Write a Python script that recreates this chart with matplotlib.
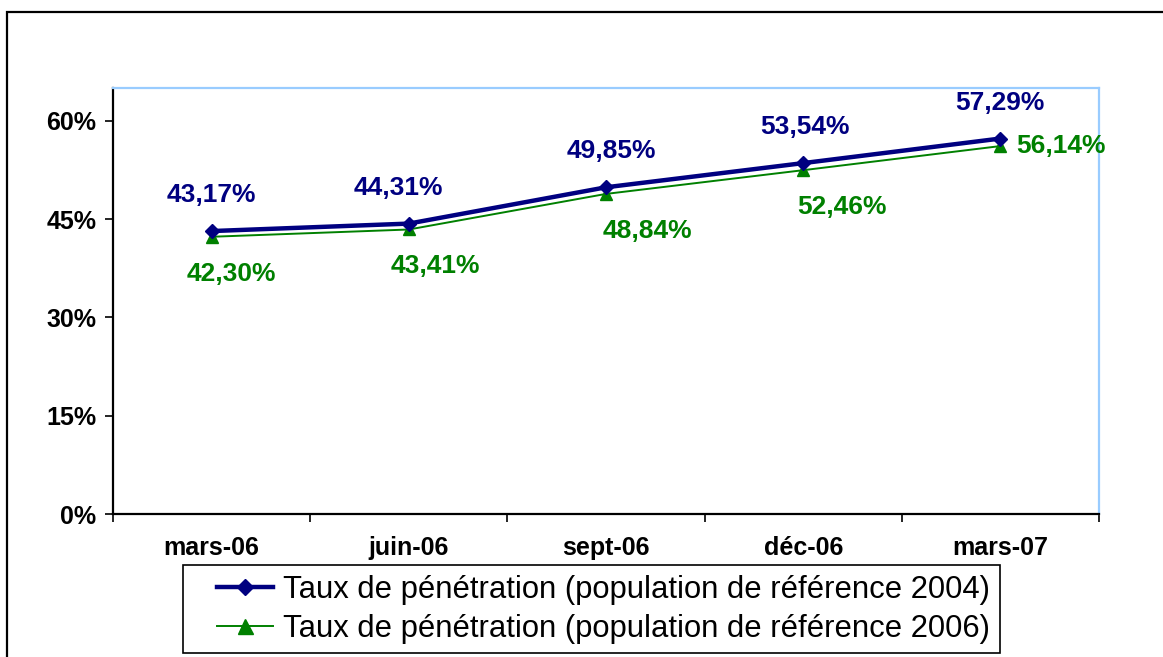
import matplotlib.pyplot as plt
from matplotlib.patches import Rectangle
from matplotlib.ticker import FixedLocator, FuncFormatter

# ============================================
# DATA
# ============================================
periodes = ['mars-06', 'juin-06', 'sept-06', 'déc-06', 'mars-07']
taux_2004 = [43.17, 44.31, 49.85, 53.54, 57.29]
taux_2006 = [42.30, 43.41, 48.84, 52.46, 56.14]
label_2004 = 'Taux de pénétration (population de référence 2004)'
label_2006 = 'Taux de pénétration (population de référence 2006)'

bleu = '#000080'
vert = '#008000'

plt.rcParams['font.family'] = ['Liberation Sans', 'DejaVu Sans']

W, H = 1163, 657
fig = plt.figure(figsize=(W / 100, H / 100), dpi=100)
# cadre exterieur (coupe a droite et en bas)
fig.patches.append(Rectangle((7 / W, -0.1), 1.2, 1.1 - 12 / H, transform=fig.transFigure,
                             fill=False, edgecolor='black', linewidth=1.6, zorder=-1))
ax = fig.add_axes([113 / W, 1 - 514 / H, (1099 - 113) / W, (514 - 88) / H])

x = list(range(len(periodes)))
l1, = ax.plot(x, taux_2004, color=bleu, linewidth=3.2, marker='D', markersize=7, zorder=4)
l2, = ax.plot(x, taux_2006, color=vert, linewidth=1.4, marker='^', markersize=9, zorder=3)

# etiquettes de valeurs
off_2004 = [(0, 36), (-10, 36), (5, 36), (2, 36), (0, 36)]
off_2006 = [(20, -37), (27, -37), (41, -37), (39, -37), (61, 0)]
for i in x:
    ax.annotate(f'{taux_2004[i]:.2f}%'.replace('.', ','), (i, taux_2004[i]), xytext=off_2004[i],
                textcoords='offset pixels', ha='center', va='center', color=bleu,
                fontsize=19, fontweight='bold', annotation_clip=False)
    ax.annotate(f'{taux_2006[i]:.2f}%'.replace('.', ','), (i, taux_2006[i]), xytext=off_2006[i],
                textcoords='offset pixels', ha='center', va='center', color=vert,
                fontsize=19, fontweight='bold', annotation_clip=False)

ax.set_xlim(-0.5, len(periodes) - 0.5)
ax.set_ylim(0, 65)
ax.yaxis.set_major_locator(FixedLocator([0, 15, 30, 45, 60]))
ax.yaxis.set_major_formatter(FuncFormatter(lambda v, p: f'{v:.0f}%'))
ax.set_xticks(x)
ax.set_xticklabels(periodes)
ax.set_xticks([i - 0.5 for i in range(len(periodes) + 1)], minor=True)
ax.tick_params(axis='x', which='major', length=0, pad=16, labelsize=18)
ax.tick_params(axis='x', which='minor', length=6, width=1.2, direction='out')
ax.tick_params(axis='y', length=6, width=1.2, direction='out', labelsize=18, pad=6)
for lab in ax.get_xticklabels() + ax.get_yticklabels():
    lab.set_fontweight('bold')

for s in ['left', 'bottom']:
    ax.spines[s].set_color('black')
    ax.spines[s].set_linewidth(1.6)
for s in ['top', 'right']:
    ax.spines[s].set_color('#99CCFF')
    ax.spines[s].set_linewidth(1.6)

# legende : cadre dessine a part
fig.patches.append(Rectangle((183 / W, 1 - 653 / H), (1000 - 183) / W, (653 - 565) / H,
                             transform=fig.transFigure, fill=True, facecolor='white',
                             edgecolor='black', linewidth=1.2, zorder=2))
leg = fig.legend([l1, l2], [label_2004, label_2006], loc='upper left',
                 bbox_to_anchor=(217 / W, 1 - 575 / H), bbox_transform=fig.transFigure,
                 fontsize=22.3, frameon=False, borderpad=0, borderaxespad=0,
                 handlelength=1.8, handletextpad=0.32, labelspacing=0.28, markerscale=1.2)
leg.set_zorder(6)

fig.savefig('out.png', dpi=100)
